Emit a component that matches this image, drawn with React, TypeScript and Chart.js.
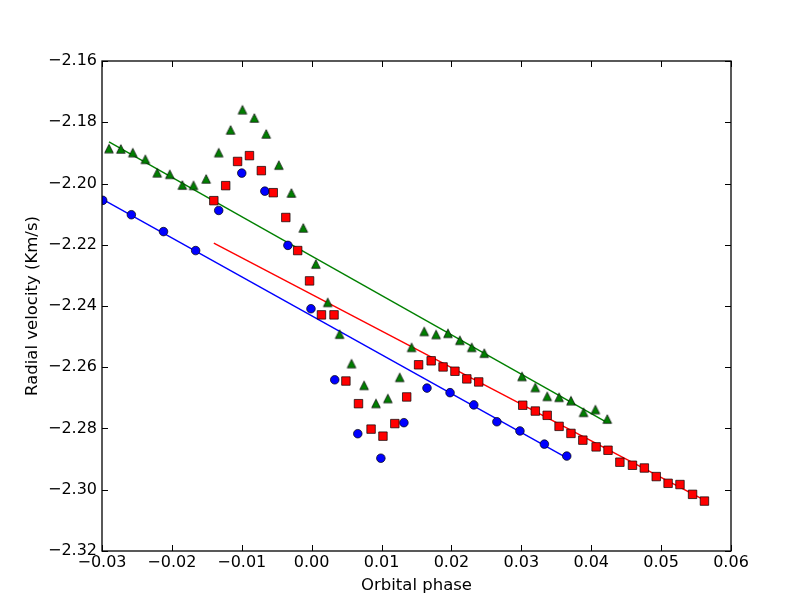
import React, { useEffect, useRef } from 'react';
import { Chart, registerables } from 'chart.js';

Chart.register(...registerables);

const xTicks = [-0.03, -0.02, -0.01, 0, 0.01, 0.02, 0.03, 0.04, 0.05, 0.06];
const xTickLabels = ['\u22120.03', '\u22120.02', '\u22120.01', '0.00', '0.01', '0.02', '0.03', '0.04', '0.05', '0.06'];
const yTicks = [-2.32, -2.3, -2.28, -2.26, -2.24, -2.22, -2.2, -2.18, -2.16];
const yTickLabels = ['\u22122.32', '\u22122.30', '\u22122.28', '\u22122.26', '\u22122.24', '\u22122.22', '\u22122.20', '\u22122.18', '\u22122.16'];

const xTitle = 'Orbital phase';
const yTitle = 'Radial velocity (Km/s)';

const blueX = [-0.0299, -0.0258, -0.0212, -0.0166, -0.0133, -0.0100, -0.0067, -0.0034, -0.0001, 0.0033, 0.0066, 0.0099, 0.0132, 0.0165, 0.0198, 0.0232, 0.0265, 0.0298, 0.0333, 0.0365];
const blueY = [-2.2055, -2.2102, -2.2157, -2.2219, -2.2088, -2.1966, -2.2025, -2.2202, -2.2409, -2.2641, -2.2817, -2.2897, -2.2781, -2.2668, -2.2683, -2.2723, -2.2778, -2.2808, -2.2851, -2.2890];

const redX = [-0.0140, -0.0123, -0.0106, -0.0089, -0.0072, -0.0055, -0.0037, -0.0020, -0.0003, 0.0014, 0.0032, 0.0049, 0.0067, 0.0085, 0.0102, 0.0119, 0.0136, 0.0153, 0.0171, 0.0188, 0.0205, 0.0222, 0.0239, 0.0302, 0.0320, 0.0337, 0.0354, 0.0371, 0.0388, 0.0407, 0.0424, 0.0441, 0.0459, 0.0476, 0.0493, 0.0510, 0.0527, 0.0545, 0.0562];
const redY = [-2.2056, -2.2007, -2.1928, -2.1909, -2.1958, -2.2030, -2.2111, -2.2219, -2.2318, -2.2429, -2.2429, -2.2645, -2.2719, -2.2802, -2.2825, -2.2784, -2.2697, -2.2592, -2.2579, -2.2599, -2.2613, -2.2638, -2.2648, -2.2724, -2.2743, -2.2757, -2.2793, -2.2816, -2.2838, -2.2860, -2.2871, -2.2910, -2.2920, -2.2929, -2.2957, -2.2979, -2.2983, -2.3015, -2.3037];

const greenX = [-0.0290, -0.0273, -0.0256, -0.0238, -0.0221, -0.0203, -0.0185, -0.0169, -0.0151, -0.0133, -0.0116, -0.0099, -0.0082, -0.0065, -0.0047, -0.0029, -0.0012, 0.0006, 0.0023, 0.0040, 0.0057, 0.0075, 0.0092, 0.0109, 0.0126, 0.0143, 0.0161, 0.0178, 0.0195, 0.0212, 0.0229, 0.0247, 0.0301, 0.0320, 0.0337, 0.0354, 0.0371, 0.0389, 0.0406, 0.0423];
const greenY = [-2.1886, -2.1887, -2.1899, -2.1921, -2.1965, -2.1970, -2.2005, -2.2006, -2.1985, -2.1899, -2.1825, -2.1759, -2.1786, -2.1838, -2.1940, -2.2031, -2.2145, -2.2263, -2.2388, -2.2492, -2.2588, -2.2659, -2.2718, -2.2702, -2.2633, -2.2535, -2.2483, -2.2493, -2.2489, -2.2512, -2.2535, -2.2554, -2.2630, -2.2666, -2.2695, -2.2698, -2.2709, -2.2747, -2.2738, -2.2769];

const blueLineX = [-0.0299, 0.0365];
const blueLineY = [-2.2052, -2.2896];
const redLineX = [-0.0140, 0.0562];
const redLineY = [-2.2195, -2.3034];
const greenLineX = [-0.0290, 0.0423];
const greenLineY = [-2.1864, -2.2781];

const BLUE = '#0000ff';
const RED = '#ff0000';
const GREEN = '#008000';
const FONT = 'DejaVu Sans';

function pts(xs: number[], ys: number[]) {
  return xs.map((x, i) => ({ x, y: ys[i] }));
}

function makeTriangle(fill: string): HTMLCanvasElement {
  const c = document.createElement('canvas');
  c.width = 14;
  c.height = 14;
  const g = c.getContext('2d')!;
  const h = 4.3;
  g.beginPath();
  g.moveTo(7, 7 - h);
  g.lineTo(7 - h, 7 + h);
  g.lineTo(7 + h, 7 + h);
  g.closePath();
  g.fillStyle = fill;
  g.fill();
  g.lineWidth = 0.7;
  g.strokeStyle = '#000';
  g.stroke();
  return c;
}

const framePlugin = {
  id: 'mplFrame',
  afterDraw(chart: any) {
    const { ctx, chartArea: a, scales } = chart;
    ctx.save();
    ctx.strokeStyle = '#000';
    ctx.lineWidth = 1;
    ctx.beginPath();
    for (const v of xTicks) {
      const px = Math.round(scales.x.getPixelForValue(v)) + 0.5;
      ctx.moveTo(px, a.bottom);
      ctx.lineTo(px, a.bottom - 6);
      ctx.moveTo(px, a.top);
      ctx.lineTo(px, a.top + 6);
    }
    for (const v of yTicks) {
      const py = Math.round(scales.y.getPixelForValue(v)) + 0.5;
      ctx.moveTo(a.left, py);
      ctx.lineTo(a.left + 6, py);
      ctx.moveTo(a.right, py);
      ctx.lineTo(a.right - 6, py);
    }
    ctx.stroke();
    ctx.lineWidth = 1.3;
    ctx.strokeRect(a.left, a.top, a.right - a.left, a.bottom - a.top);
    ctx.restore();
  },
};

export default function App() {
  const ref = useRef<HTMLCanvasElement | null>(null);

  useEffect(() => {
    if (!ref.current) return;
    const tri = makeTriangle(GREEN);
    const lineDs = (xs: number[], ys: number[], color: string) => ({
      type: 'line' as const,
      data: pts(xs, ys),
      borderColor: color,
      borderWidth: 1.4,
      pointRadius: 0,
      showLine: true,
      fill: false,
      tension: 0,
      clip: 0,
      order: 10,
    });
    const chart = new Chart(ref.current, {
      type: 'scatter',
      data: {
        datasets: [
          lineDs(blueLineX, blueLineY, BLUE),
          lineDs(redLineX, redLineY, RED),
          lineDs(greenLineX, greenLineY, GREEN),
          {
            data: pts(blueX, blueY),
            pointStyle: 'circle',
            pointRadius: 4.3,
            backgroundColor: BLUE,
            borderColor: '#000',
            borderWidth: 0.7,
            clip: 0,
            order: 3,
          } as any,
          {
            data: pts(redX, redY),
            pointStyle: 'rect',
            pointRadius: 6,
            backgroundColor: RED,
            borderColor: '#000',
            borderWidth: 0.7,
            clip: 0,
            order: 2,
          } as any,
          {
            data: pts(greenX, greenY),
            pointStyle: tri,
            pointRadius: 5,
            backgroundColor: GREEN,
            borderColor: '#000',
            borderWidth: 0.7,
            clip: 0,
            order: 1,
          } as any,
        ],
      },
      options: {
        animation: false,
        responsive: false,
        maintainAspectRatio: false,
        events: [],
        layout: { padding: { left: 0, top: 61, right: 81, bottom: 0 } },
        plugins: {
          legend: { display: false },
          tooltip: { enabled: false },
        },
        scales: {
          x: {
            type: 'linear',
            min: -0.03,
            max: 0.06,
            grid: { display: false, drawTicks: false, tickLength: 0 },
            border: { display: false },
            afterBuildTicks: (s: any) => {
              s.ticks = xTicks.map((v) => ({ value: v }));
            },
            afterFit: (s: any) => {
              s.height = 61;
              s.paddingLeft = 0;
              s.paddingRight = 0;
              s.paddingTop = 0;
              s.paddingBottom = 0;
            },
            ticks: {
              autoSkip: false,
              maxRotation: 0,
              padding: 2.7,
              color: '#000',
              font: { family: FONT, size: 16 },
              callback: (_v: any, i: number) => xTickLabels[i],
            },
            title: {
              display: true,
              text: xTitle,
              color: '#000',
              font: { family: FONT, size: 16.5 },
              padding: { top: 0, bottom: 16.8 },
            },
          },
          y: {
            type: 'linear',
            min: -2.32,
            max: -2.16,
            grid: { display: false, drawTicks: false, tickLength: 0 },
            border: { display: false },
            afterBuildTicks: (s: any) => {
              s.ticks = yTicks.map((v) => ({ value: v }));
            },
            afterFit: (s: any) => {
              s.width = 102;
              s.paddingLeft = 0;
              s.paddingRight = 0;
              s.paddingTop = 0;
              s.paddingBottom = 0;
            },
            ticks: {
              autoSkip: false,
              padding: 5,
              color: '#000',
              font: { family: FONT, size: 16 },
              callback: (_v: any, i: number) => yTickLabels[i],
            },
            title: {
              display: true,
              text: yTitle,
              color: '#000',
              font: { family: FONT, size: 16.5 },
              padding: { top: 22.7, bottom: 0 },
            },
          },
        },
      },
      plugins: [framePlugin],
    } as any);
    return () => chart.destroy();
  }, []);

  return (
    <div style={{ position: 'fixed', left: 0, top: 0, width: 812, height: 612, background: '#fff' }}>
      <canvas ref={ref} width={812} height={612} style={{ display: 'block', width: 812, height: 612 }} />
    </div>
  );
}
